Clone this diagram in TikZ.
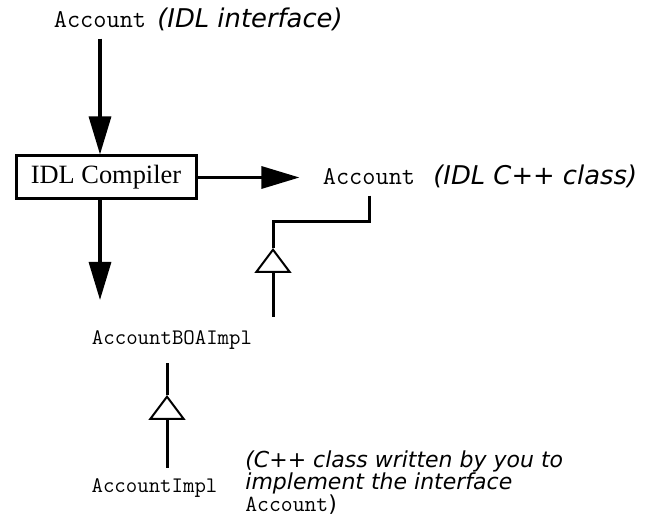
\documentclass[tikz,border=0pt]{standalone}
\usepackage{fontspec}
\setmainfont{Liberation Serif}
\newfontfamily\notefont{DejaVu Sans}
\usetikzlibrary{arrows.meta, positioning}

\begin{document}
\begin{tikzpicture}[x=0.5pt, y=-0.5pt,
    code/.style={font=\ttfamily\fontsize{12.8}{14}\selectfont, inner sep=0pt},
    smallcode/.style={font=\ttfamily\fontsize{11.1}{12}\selectfont, inner sep=0pt},
    note/.style={font=\notefont\itshape\fontsize{12.9}{14}\selectfont, inner sep=0pt},
    arr/.style={line width=1.6pt, -{Triangle[length=19pt, width=11pt]}},
    inh/.style={line width=1.5pt},
    inhtip/.style={inh, -{Triangle[open, line width=1pt, length=12.5pt, width=18.5pt]}}]

    \useasboundingbox (0,0) rectangle (653,517);

    % --- IDL interface ---
    \node[code, anchor=base] (acc idl) at (100,28) {Account};
    \node[note, anchor=base west] (idl note) at (157,28) {(IDL interface)};

    % --- Compiler ---
    \node[draw, line width=1.5pt, minimum width=90pt, minimum height=21.5pt,
          font=\fontsize{13.2}{15}\selectfont] (compiler) at (106,177.5) {IDL Compiler};
    \draw[arr, shorten <=5pt] (acc idl.south) -- (acc idl.south |- compiler.north);

    % --- Generated C++ class ---
    \node[code, anchor=base] (acc cxx) at (369,185) {Account};
    \node[note, anchor=base west] (cxx note) at (433,185) {(IDL C++ class)};
    \draw[arr, shorten >=11.5pt] (compiler.east) -- (compiler.east -| acc cxx.west);

    % --- Skeleton class ---
    \node[smallcode, anchor=base] (boa) at (172,345) {AccountBOAImpl};
    \coordinate (gen end) at (100,300);
    \draw[arr] (compiler.south -| acc idl) -- (gen end);

    \coordinate (bend) at (273,222);
    \coordinate (tip boa) at (273,248);
    \draw[inh, shorten <=5pt] (acc cxx.south) |- (bend) -- (tip boa);
    \draw[inhtip, shorten <=7pt] (boa.north -| tip boa) -- (tip boa);

    % --- Implementation class ---
    \node[smallcode, anchor=base] (impl) at (154.5,493) {AccountImpl};
    \coordinate (tip impl) at (167,395);
    \draw[inh, shorten >=6.5pt] (tip impl) -- (boa.south -| tip impl);
    \draw[inhtip, shorten <=5.5pt] (impl.north -| tip impl) -- (tip impl);

    \node[note, anchor=north west, align=left, font=\notefont\itshape\fontsize{11}{11}\selectfont]
        (impl note) at (245,450) {(C++ class written by you to\\implement the interface\\
        {\upshape\ttfamily\fontsize{11.5}{11}\selectfont Account}{\upshape)}};

\end{tikzpicture}
\end{document}
